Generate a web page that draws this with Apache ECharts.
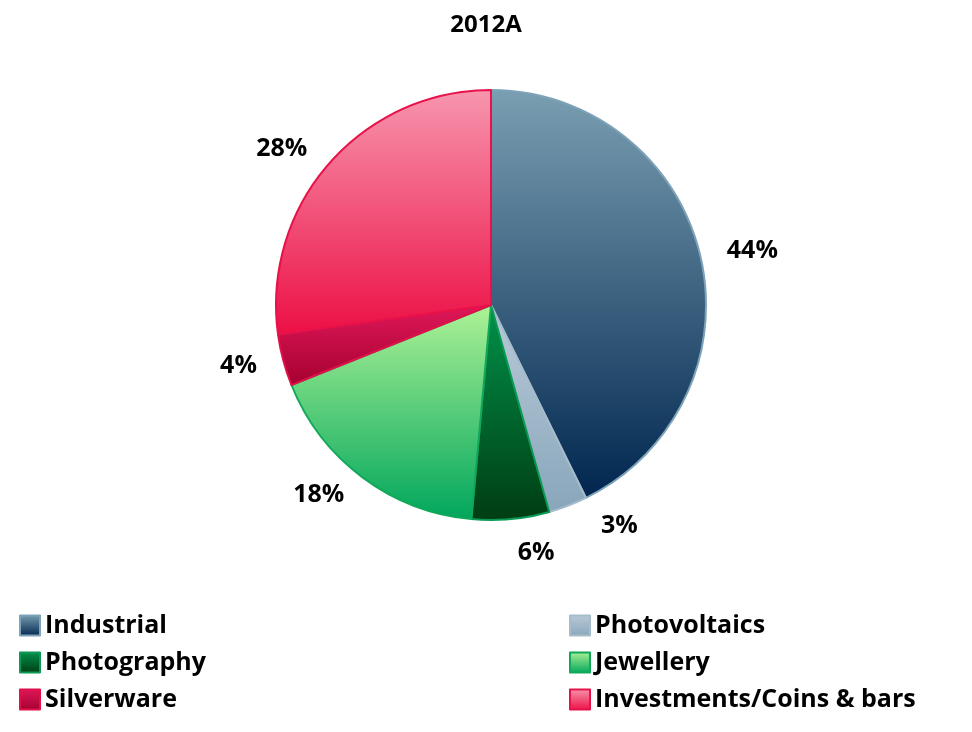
<!DOCTYPE html>
<html>
<head>
	<meta charset="utf-8">
	<title>2012A</title>
	<script src="https://cdn.jsdelivr.net/npm/echarts@6/dist/echarts.min.js"></script>
</head>
<body style="margin:0">
	<div id="main" style="width: 972px;height: 732px;"></div>
	<script>
		var categories = ['Industrial', 'Photovoltaics', 'Photography', 'Jewellery', 'Silverware', 'Investments/Coins & bars'];
		var values = [44, 3, 6, 18, 4, 28];
		// top / bottom gradient colours and edge colour per slice
		var topColors = ['#7a9fb2', '#b9cad8', '#00924a', '#aef296', '#e0185a', '#f796ae'];
		var bottomColors = ['#00264f', '#88a6bb', '#003d12', '#00a65c', '#a5002f', '#ec0f45'];
		var edgeColors = ['#7ea3b8', '#a7bccb', '#0a9a55', '#11a85a', '#e0104a', '#e8124a'];

		var myCharts = echarts.init(document.getElementById('main'));
		var font = '"Open Sans", sans-serif';

		var data = categories.map(function (name, i) {
			return {
				name: name,
				value: values[i],
				itemStyle: {
					color: new echarts.graphic.LinearGradient(0, 0, 0, 1, [
						{ offset: 0, color: topColors[i] },
						{ offset: 1, color: bottomColors[i] }
					]),
					borderColor: edgeColors[i],
					borderWidth: 2
				}
			};
		});

		var legendStyle = { fontSize: 25, fontWeight: 'bold', color: '#000', fontFamily: font };
		var option = {
			title: {
				text: '2012A',
				left: 'center',
				top: 8,
				textStyle: { fontSize: 24, fontWeight: 'bold', color: '#000', fontFamily: font }
			},
			legend: [{
				orient: 'vertical', left: 14, top: 608, itemGap: 12,
				itemWidth: 20, itemHeight: 20, icon: 'rect',
				data: [categories[0], categories[2], categories[4]],
				textStyle: legendStyle
			}, {
				orient: 'vertical', left: 564, top: 608, itemGap: 12,
				itemWidth: 20, itemHeight: 20, icon: 'rect',
				data: [categories[1], categories[3], categories[5]],
				textStyle: legendStyle
			}],
			series: [{
				type: 'pie',
				center: [491, 305],
				radius: 215,
				startAngle: 90,
				clockwise: true,
				animation: false,
				label: {
					position: 'outside',
					formatter: function (p) { return p.value + '%'; },
					fontSize: 25, fontWeight: 'bold', color: '#000', fontFamily: font
				},
				labelLine: { show: false, length: 22, length2: 0 },
				data: data
			}]
		};
		myCharts.setOption(option);
	</script>
</body>
</html>
